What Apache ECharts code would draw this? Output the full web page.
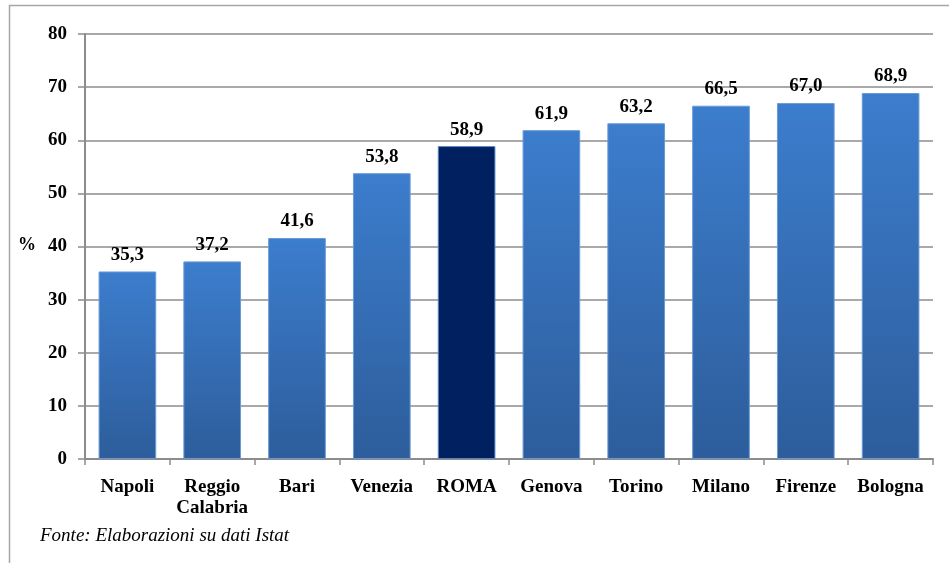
<!DOCTYPE html>
<html><head><meta charset="utf-8">
<script src="https://cdn.jsdelivr.net/npm/echarts@6/dist/echarts.min.js"></script>
<style>html,body{margin:0;padding:0;background:#fff}#c{width:949px;height:563px}</style>
</head><body><div id="c"></div>
<script>
const categories = ["Napoli", "Reggio\nCalabria", "Bari", "Venezia", "ROMA", "Genova", "Torino", "Milano", "Firenze", "Bologna"];
const values = [35.3, 37.2, 41.6, 53.8, 58.9, 61.9, 63.2, 66.5, 67.0, 68.9];
const highlight = "ROMA";
const yTicks = [0, 10, 20, 30, 40, 50, 60, 70, 80];
const source = "Fonte: Elaborazioni su dati Istat";

const font = "'Liberation Serif', 'Times New Roman', serif";
const blueGrad = new echarts.graphic.LinearGradient(0, 0, 0, 1, [
  {offset: 0, color: '#3c7dcd'}, {offset: 1, color: '#2d5d9b'}
]);
const chart = echarts.init(document.getElementById('c'), null, {renderer: 'canvas'});
chart.setOption({
  backgroundColor: '#fff',
  animation: false,
  grid: {left: 85, right: 16, top: 34, bottom: 104, containLabel: false},
  graphic: [
    {type: 'rect', shape: {x: 9.5, y: 5.5, width: 960, height: 600}, style: {fill: 'none', stroke: '#a6a6a6', lineWidth: 1.5}, silent: true},
    {type: 'text', left: 40, top: 526, style: {text: source, font: 'italic 19px ' + font, fill: '#000'}},
    {type: 'text', left: 18, top: 236, style: {text: '%', font: 'bold 18px ' + font, fill: '#000'}}
  ],
  xAxis: {
    type: 'category', data: categories,
    axisLine: {lineStyle: {color: '#8c8c8c', width: 2}},
    axisTick: {show: true, alignWithLabel: false, length: 6, lineStyle: {color: '#8c8c8c', width: 1.5}},
    axisLabel: {interval: 0, color: '#000', fontFamily: font, fontWeight: 'bold', fontSize: 19, margin: 18, lineHeight: 21}
  },
  yAxis: {
    type: 'value', min: 0, max: 80, interval: 10,
    axisLine: {show: true, lineStyle: {color: '#8c8c8c', width: 2}},
    axisTick: {show: true, length: 7, lineStyle: {color: '#8c8c8c', width: 1.5}},
    splitLine: {lineStyle: {color: '#8c8c8c', width: 1.5}},
    axisLabel: {color: '#000', fontFamily: font, fontWeight: 'bold', fontSize: 19, margin: 18,
      formatter: v => yTicks.includes(v) ? String(v) : ''}
  },
  series: [{
    type: 'bar', barWidth: '68%',
    data: values.map((v, i) => ({
      value: v,
      itemStyle: categories[i] === highlight
        ? {color: '#002060', borderColor: '#5b86c4', borderWidth: 1}
        : {color: blueGrad, borderColor: '#6a9ad6', borderWidth: 1}
    })),
    label: {show: true, position: 'top', distance: 7, color: '#000', fontFamily: font, fontWeight: 'bold', fontSize: 19,
      formatter: p => p.value.toFixed(1).replace('.', ',')}
  }]
});
</script></body></html>
